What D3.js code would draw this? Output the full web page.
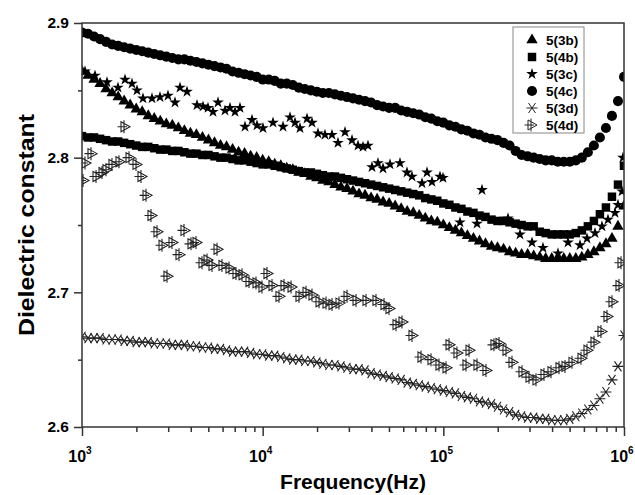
<!DOCTYPE html>
<html>
<head>
<meta charset="utf-8">
<script src="https://cdn.jsdelivr.net/npm/d3@7"></script>
<style>
body { margin: 0; background: #fff; }
text { font-family: "Liberation Sans", Arial, sans-serif; font-weight: bold; fill: #000; }
</style>
</head>
<body>
<div id="chart"></div>
<script>
// frequency sweep shared by the dense series (Hz)
const freq = [
  1000, 1080, 1166, 1259, 1359, 1468, 1585, 1711, 1848, 1995,
  2154, 2326, 2512, 2712, 2929, 3162, 3415, 3687, 3981, 4299,
  4642, 5012, 5412, 5843, 6310, 6813, 7356, 7943, 8577, 9261,
  10000, 10800, 11660, 12590, 13590, 14680, 15850, 17110, 18480, 19950,
  21540, 23260, 25120, 27120, 29290, 31620, 34150, 36870, 39810, 42990,
  46420, 50120, 54120, 58430, 63100, 68130, 73560, 79430, 85770, 92610,
  100000, 108000, 116600, 125900, 135900, 146800, 158500, 171100, 184800, 199500,
  215400, 232600, 251200, 271200, 292900, 316200, 341500, 368700, 398100, 429900,
  464200, 501200, 541200, 584300, 631000, 681300, 735600, 794300, 857700, 926100,
  1000000
];

const s3b = [
  2.864, 2.861, 2.858, 2.855, 2.851, 2.848, 2.845, 2.842, 2.839, 2.836,
  2.834, 2.831, 2.829, 2.827, 2.825, 2.824, 2.822, 2.820, 2.818, 2.817,
  2.815, 2.813, 2.811, 2.809, 2.808, 2.806, 2.804, 2.803, 2.801, 2.800,
  2.798, 2.797, 2.795, 2.794, 2.792, 2.791, 2.789, 2.788, 2.786, 2.785,
  2.783, 2.782, 2.780, 2.778, 2.777, 2.775, 2.773, 2.772, 2.770, 2.769,
  2.767, 2.766, 2.764, 2.762, 2.760, 2.759, 2.757, 2.755, 2.753, 2.752,
  2.750, 2.748, 2.746, 2.744, 2.742, 2.740, 2.738, 2.736, 2.734, 2.733,
  2.732, 2.730, 2.729, 2.728, 2.728, 2.727, 2.726, 2.725, 2.725, 2.725,
  2.725, 2.725, 2.725, 2.726, 2.728, 2.730, 2.733, 2.736, 2.740, 2.749,
  2.764
];

const s4b = [
  2.816, 2.815, 2.815, 2.814, 2.813, 2.812, 2.812, 2.811, 2.810, 2.809,
  2.808, 2.808, 2.807, 2.806, 2.806, 2.805, 2.805, 2.804, 2.803, 2.803,
  2.802, 2.802, 2.801, 2.800, 2.800, 2.799, 2.798, 2.798, 2.797, 2.796,
  2.795, 2.795, 2.794, 2.793, 2.792, 2.791, 2.790, 2.789, 2.789, 2.788,
  2.787, 2.786, 2.786, 2.785, 2.784, 2.783, 2.782, 2.781, 2.780, 2.779,
  2.778, 2.777, 2.776, 2.775, 2.774, 2.773, 2.772, 2.770, 2.769, 2.768,
  2.766, 2.765, 2.763, 2.762, 2.760, 2.759, 2.757, 2.756, 2.754, 2.753,
  2.753, 2.752, 2.751, 2.750, 2.749, 2.749, 2.745, 2.744, 2.743, 2.743,
  2.743, 2.743, 2.744, 2.746, 2.749, 2.753, 2.758, 2.763, 2.771, 2.780,
  2.794
];

const s4c = [
  2.893, 2.892, 2.890, 2.888, 2.886, 2.884, 2.883, 2.882, 2.881, 2.880,
  2.879, 2.878, 2.877, 2.876, 2.875, 2.874, 2.873, 2.873, 2.872, 2.871,
  2.870, 2.869, 2.868, 2.867, 2.866, 2.864, 2.863, 2.862, 2.861, 2.860,
  2.858, 2.858, 2.857, 2.855, 2.855, 2.854, 2.852, 2.851, 2.850, 2.849,
  2.848, 2.848, 2.847, 2.846, 2.845, 2.844, 2.843, 2.842, 2.841, 2.839,
  2.838, 2.837, 2.837, 2.835, 2.834, 2.833, 2.832, 2.830, 2.829, 2.827,
  2.826, 2.824, 2.823, 2.821, 2.820, 2.818, 2.817, 2.815, 2.814, 2.813,
  2.811, 2.809, 2.805, 2.802, 2.801, 2.800, 2.799, 2.798, 2.798, 2.797,
  2.797, 2.797, 2.798, 2.800, 2.804, 2.809, 2.815, 2.822, 2.831, 2.842,
  2.860
];

const s3d = [
  2.667, 2.666, 2.666, 2.666, 2.665, 2.665, 2.665, 2.664, 2.664, 2.663,
  2.663, 2.663, 2.662, 2.662, 2.662, 2.661, 2.661, 2.661, 2.660, 2.660,
  2.659, 2.659, 2.658, 2.658, 2.657, 2.656, 2.656, 2.656, 2.655, 2.654,
  2.654, 2.653, 2.653, 2.652, 2.651, 2.650, 2.650, 2.649, 2.649, 2.648,
  2.647, 2.646, 2.646, 2.645, 2.644, 2.643, 2.643, 2.642, 2.640, 2.639,
  2.638, 2.637, 2.636, 2.635, 2.633, 2.632, 2.631, 2.630, 2.629, 2.628,
  2.627, 2.626, 2.625, 2.623, 2.622, 2.621, 2.619, 2.618, 2.617, 2.615,
  2.613, 2.611, 2.609, 2.608, 2.607, 2.607, 2.606, 2.606, 2.605, 2.605,
  2.605, 2.606, 2.608, 2.610, 2.613, 2.616, 2.621, 2.626, 2.635, 2.645,
  2.668
];

// the noisy series have their own frequency points
const freq3c = [
  1039, 1180, 1375, 1582, 1730, 1891, 2016, 2176, 2440, 2702,
  2992, 3272, 3487, 3813, 4330, 4675, 4983, 5310, 5660, 6187,
  6595, 7029, 7489, 7983, 8728, 9303, 10040, 11410, 12960, 14170,
  15100, 16090, 17600, 18750, 20240, 22130, 24190, 26120, 28560, 31230,
  33710, 35930, 38280, 40280, 43470, 46350, 50680, 57560, 62930, 67070,
  76190, 81210, 86530, 95830, 99560, 123600, 153600, 163700, 228000, 265600,
  309600, 356100, 431100, 489800, 570600, 624000, 691000, 755200, 815300, 891400,
  926200, 974800, 987200
];
const s3c = [
  2.864, 2.861, 2.856, 2.852, 2.858, 2.855, 2.850, 2.844, 2.844, 2.845,
  2.846, 2.841, 2.852, 2.849, 2.839, 2.838, 2.837, 2.834, 2.841, 2.835,
  2.837, 2.834, 2.837, 2.823, 2.828, 2.824, 2.822, 2.826, 2.823, 2.830,
  2.826, 2.822, 2.829, 2.826, 2.818, 2.817, 2.817, 2.811, 2.819, 2.813,
  2.809, 2.808, 2.809, 2.793, 2.796, 2.792, 2.795, 2.796, 2.789, 2.786,
  2.781, 2.789, 2.782, 2.786, 2.785, 2.752, 2.751, 2.776, 2.755, 2.743,
  2.737, 2.733, 2.729, 2.737, 2.735, 2.740, 2.744, 2.749, 2.754, 2.759,
  2.765, 2.775, 2.800
];

const freq4d = [
  1026, 1052, 1136, 1211, 1307, 1375, 1484, 1623, 1730, 1844,
  2016, 2148, 2290, 2440, 2634, 2808, 2992, 3189, 3487, 3716,
  4063, 4330, 4675, 4983, 5310, 5660, 6031, 6595, 7209, 7784,
  8509, 9303, 10040, 10700, 11410, 12470, 13290, 14540, 16090, 17600,
  18990, 20770, 22710, 24510, 26790, 29680, 33280, 37800, 42930, 47550,
  50680, 55410, 59800, 67930, 76190, 86530, 95830, 104800, 108900, 120500,
  135200, 140500, 155500, 174400, 193100, 205900, 225100, 243000, 276000, 301800,
  329900, 365300, 399400, 442300, 477500, 522000, 585400, 632000, 691000, 755200,
  815300, 869000, 950200, 974800
];
const s4d = [
  2.783, 2.796, 2.803, 2.786, 2.789, 2.791, 2.795, 2.797, 2.823, 2.800,
  2.795, 2.786, 2.772, 2.757, 2.745, 2.735, 2.712, 2.737, 2.728, 2.746,
  2.736, 2.737, 2.722, 2.724, 2.720, 2.732, 2.720, 2.718, 2.714, 2.713,
  2.708, 2.707, 2.704, 2.714, 2.705, 2.697, 2.705, 2.704, 2.697, 2.700,
  2.698, 2.693, 2.692, 2.691, 2.692, 2.697, 2.694, 2.694, 2.694, 2.691,
  2.688, 2.676, 2.678, 2.668, 2.652, 2.650, 2.646, 2.644, 2.661, 2.655,
  2.646, 2.657, 2.646, 2.642, 2.661, 2.662, 2.657, 2.648, 2.641, 2.637,
  2.635, 2.639, 2.641, 2.644, 2.645, 2.648, 2.651, 2.657, 2.663, 2.671,
  2.682, 2.693, 2.705, 2.722
];

const seriesNames = ["5(3b)", "5(4b)", "5(3c)", "5(4c)", "5(3d)", "5(4d)"];
const xMajor = [1e3, 1e4, 1e5, 1e6];
const xMajorExp = ["3", "4", "5", "6"];
const yMajor = [2.6, 2.7, 2.8, 2.9];
const yMinor = [2.65, 2.75, 2.85];

const width = 635, height = 495;
const plot = { left: 82, right: 624, top: 23, bottom: 427 };

const svg = d3.select("#chart").append("svg")
    .attr("width", width)
    .attr("height", height);

svg.append("rect").attr("width", width).attr("height", height).attr("fill", "#fff");

const x = d3.scaleLog().domain([1e3, 1e6]).range([plot.left, plot.right]);
const y = d3.scaleLinear().domain([2.6, 2.9]).range([plot.bottom, plot.top]);

svg.append("clipPath").attr("id", "plotClip")
  .append("rect")
    .attr("x", plot.left).attr("y", plot.top)
    .attr("width", plot.right - plot.left).attr("height", plot.bottom - plot.top);

// marker shapes
const triPath = d3.symbol(d3.symbolTriangle, 56)();
const sqPath = d3.symbol(d3.symbolSquare, 72)();
const starPath = d3.symbol(d3.symbolStar, 42)();
const circPath = d3.symbol(d3.symbolCircle, 80)();
const astPath = "M-5.5,0H5.5M-3.5,-5L3.5,5M3.5,-5L-3.5,5";
const tri4dPath = "M-4,-5L5,0L-4,5Z M-1,-6.5V6.5 M-7.5,0H2";

const series = [
  { name: seriesNames[0], f: freq, v: s3b, d: triPath, fill: "#000", stroke: "none" },
  { name: seriesNames[1], f: freq, v: s4b, d: sqPath, fill: "#000", stroke: "none" },
  { name: seriesNames[2], f: freq3c, v: s3c, d: starPath, fill: "#000", stroke: "none" },
  { name: seriesNames[3], f: freq, v: s4c, d: circPath, fill: "#000", stroke: "none" },
  { name: seriesNames[4], f: freq, v: s3d, d: astPath, fill: "none", stroke: "#222" },
  { name: seriesNames[5], f: freq4d, v: s4d, d: tri4dPath, fill: "none", stroke: "#222" }
];

const marks = svg.append("g").attr("clip-path", "url(#plotClip)");

series.forEach(s => {
  marks.append("g")
    .selectAll("path")
    .data(s.f.map((f, i) => [f, s.v[i]]))
    .join("path")
      .attr("d", s.d)
      .attr("transform", d => `translate(${x(d[0])},${y(d[1])})`)
      .attr("fill", s.fill)
      .attr("stroke", s.stroke)
      .attr("stroke-width", 1.1);
});

// axes: minor ticks first, then major ticks
const axisColor = "#333";

const xMinorAxis = svg.append("g")
    .attr("transform", `translate(0,${plot.bottom})`)
    .call(d3.axisBottom(x)
      .tickValues(x.ticks().filter(t => !xMajor.includes(t)))
      .tickSize(5).tickSizeOuter(0).tickFormat(""));

const xMajorAxis = svg.append("g")
    .attr("transform", `translate(0,${plot.bottom})`)
    .call(d3.axisBottom(x).tickValues(xMajor).tickSize(9).tickSizeOuter(0).tickFormat(""));

const yMinorAxis = svg.append("g")
    .attr("transform", `translate(${plot.left},0)`)
    .call(d3.axisLeft(y).tickValues(yMinor).tickSize(4).tickSizeOuter(0).tickFormat(""));

const yMajorAxis = svg.append("g")
    .attr("transform", `translate(${plot.left},0)`)
    .call(d3.axisLeft(y).tickValues(yMajor).tickSize(8).tickSizeOuter(0)
      .tickPadding(5).tickFormat(d3.format(".1f")));

[xMinorAxis, xMajorAxis, yMinorAxis, yMajorAxis].forEach(g => {
  g.select(".domain").remove();
  g.selectAll(".tick line").attr("stroke", axisColor).attr("stroke-width", 1.5);
});

yMajorAxis.selectAll(".tick text")
    .attr("font-size", 15.5)
    .attr("font-family", "Liberation Sans, Arial, sans-serif")
    .attr("font-weight", "bold")
    .attr("fill", "#000");

// decade labels 10^n
xMajor.forEach((t, i) => {
  const lab = svg.append("text")
      .attr("x", x(t) - 2)
      .attr("y", 462)
      .attr("text-anchor", "middle");
  lab.append("tspan").attr("font-size", 16).text("10");
  lab.append("tspan").attr("font-size", 10).attr("dy", -8).text(xMajorExp[i]);
});

// frame
svg.append("rect")
    .attr("x", plot.left).attr("y", plot.top)
    .attr("width", plot.right - plot.left).attr("height", plot.bottom - plot.top)
    .attr("fill", "none")
    .attr("stroke", axisColor)
    .attr("stroke-width", 1.5);

// axis titles
svg.append("text")
    .attr("x", 353)
    .attr("y", 489)
    .attr("text-anchor", "middle")
    .attr("font-size", 21)
    .text("Frequency(Hz)");

svg.append("text")
    .attr("transform", "translate(34,225) rotate(-90)")
    .attr("text-anchor", "middle")
    .attr("font-size", 22)
    .attr("textLength", 222)
    .attr("lengthAdjust", "spacingAndGlyphs")
    .text("Dielectric constant");

// legend
const legend = svg.append("g");
legend.append("rect")
    .attr("x", 513).attr("y", 27)
    .attr("width", 71).attr("height", 106)
    .attr("fill", "#fff")
    .attr("stroke", "#888")
    .attr("stroke-width", 1);

series.forEach((s, i) => {
  const cy = 40 + i * 17;
  legend.append("path")
      .attr("d", s.d)
      .attr("transform", `translate(532,${cy})`)
      .attr("fill", s.fill)
      .attr("stroke", s.stroke)
      .attr("stroke-width", 1);
  legend.append("text")
      .attr("x", 546)
      .attr("y", cy)
      .attr("dy", "0.36em")
      .attr("font-size", 13.5)
      .text(s.name);
});
</script>
</body>
</html>
